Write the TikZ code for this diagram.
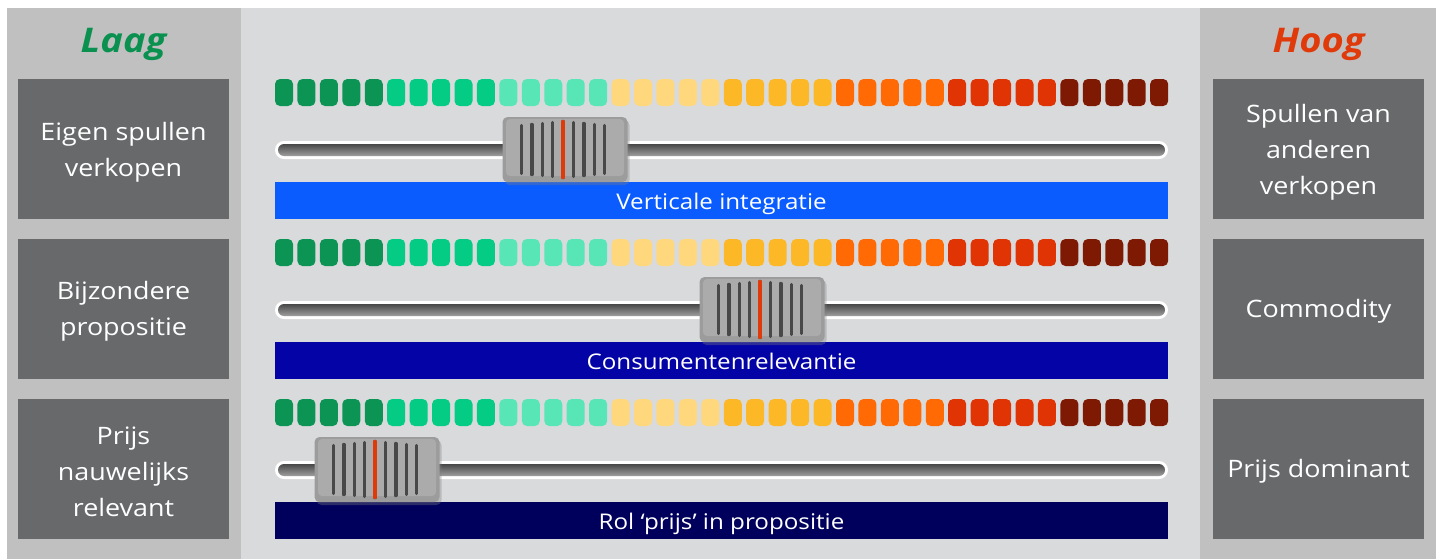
\documentclass[tikz,border=0pt]{standalone}
\usepackage{fontspec}
\setmainfont[FakeStretch=1.12]{Open Sans}
\usetikzlibrary{shadows}

\definecolor{colgrey}{HTML}{C0C0C0}
\definecolor{midgrey}{HTML}{D9DADC}
\definecolor{boxgrey}{HTML}{67696B}
\definecolor{laaggreen}{HTML}{0A9150}
\definecolor{hoogred}{HTML}{E03A0A}
\definecolor{seg1}{HTML}{0C9455}
\definecolor{seg2}{HTML}{05CC85}
\definecolor{seg3}{HTML}{58E6B6}
\definecolor{seg4}{HTML}{FFD77C}
\definecolor{seg5}{HTML}{FDB828}
\definecolor{seg6}{HTML}{FF6A05}
\definecolor{seg7}{HTML}{E03404}
\definecolor{seg8}{HTML}{7E1A04}
\definecolor{barA}{HTML}{0A5CFF}
\definecolor{barB}{HTML}{0303A6}
\definecolor{barC}{HTML}{00005C}
\definecolor{knobgrey}{HTML}{9C9C9C}
\definecolor{knobface}{HTML}{ABABAB}
\definecolor{ridge}{HTML}{484848}

\tikzset{
  sidebox/.style={fill=boxgrey,minimum width=105.5pt,minimum height=70pt,inner sep=0pt},
  boxtext/.style={text=white,inner sep=0pt,align=center,font=\fontsize{12}{18}\selectfont},
  title/.style={font=\fontsize{17}{20}\selectfont\bfseries\itshape},
  barlabel/.style={text=white,minimum width=446.5pt,minimum height=18.5pt,inner sep=0pt,
    text height=11pt,text depth=2.5pt,font=\fontsize{10.8}{12}\selectfont},
  knob/.style={fill=knobgrey,rounded corners=2.5pt,minimum width=62.5pt,minimum height=32.5pt,
    inner sep=0pt,drop shadow={shadow xshift=1pt,shadow yshift=-1.5pt,opacity=0.35}},
}

\begin{document}
\begin{tikzpicture}[x=0.5pt,y=-0.5pt]
\useasboundingbox (0,0) rectangle (1440,559);
\fill[white] (0,0) rectangle (1440,559);
\fill[colgrey] (7,8) rectangle (1436,559);
\fill[midgrey] (241,8) rectangle (1200,559);

\node[title,text=laaggreen] (laag) at (123.5,44.5) {Laag};
\node[title,text=hoogred] (hoog) at (1318.5,44.5) {Hoog};

% vakken links en rechts
\node[sidebox] (left1) at (123.5,149) {};
\node[sidebox] (left2) at (123.5,308.5) {};
\node[sidebox] (left3) at (123.5,468.5) {};
\node[sidebox] (right1) at (1318.5,149) {};
\node[sidebox] (right2) at (1318.5,308.5) {};
\node[sidebox] (right3) at (1318.5,468.5) {};

\node[boxtext] (left1t) at ([yshift=-1.5pt]left1.center) {Eigen spullen\\verkopen};
\node[boxtext] (left2t) at ([yshift=-1.5pt]left2.center) {Bijzondere\\propositie};
\node[boxtext] (left3t) at ([yshift=-1.5pt]left3.center) {Prijs\\nauwelijks\\relevant};
\node[boxtext] (right1t) at ([yshift=-1.5pt]right1.center) {Spullen van\\anderen\\verkopen};
\node[boxtext] (right2t) at ([yshift=-1.5pt]right2.center) {Commodity};
\node[boxtext] (right3t) at ([yshift=-1.5pt]right3.center) {Prijs dominant};

% drie schuifregelaars
\foreach \r/\dy/\kx/\bar/\lab in {1/0/565/barA/Verticale integratie,
    2/160/762/barB/Consumentenrelevantie,
    3/320/377/barC/Rol ‘prijs’ in propositie}{
  % kleurenschaal
  \foreach \i in {0,...,39}{
    \pgfmathtruncatemacro\c{\i/5+1}
    \fill[seg\c,rounded corners=2.5pt] ({275+\i*22.44},79+\dy) rectangle ++(18,27);
  }
  % rail
  \fill[white,rounded corners=4.5pt] (275,141+\dy) rectangle (1168,159+\dy);
  \shade[top color=ridge,bottom color=gray!75,rounded corners=3pt]
    (278,144+\dy) rectangle (1165,156+\dy);
  % balk met tekst
  \node[barlabel,fill=\bar] (bar\r) at (721.5,200.5+\dy) {\lab};
  % knop
  \node[knob] (knob\r) at (\kx,149.5+\dy) {};
  \fill[knobface,rounded corners=2pt] (\kx-59,119+\dy) rectangle (\kx+59,176+\dy);
  \foreach \j in {-4,...,4}
    \draw[ridge,line width=1.7pt,line cap=round]
      ({\kx-2+\j*10.4},{149.5+\dy-28+abs(\j)}) -- ({\kx-2+\j*10.4},{149.5+\dy+28-abs(\j)});
  \draw[hoogred,line width=1.7pt,line cap=round] (\kx-2,121.5+\dy) -- (\kx-2,177.5+\dy);
}
\end{tikzpicture}
\end{document}
